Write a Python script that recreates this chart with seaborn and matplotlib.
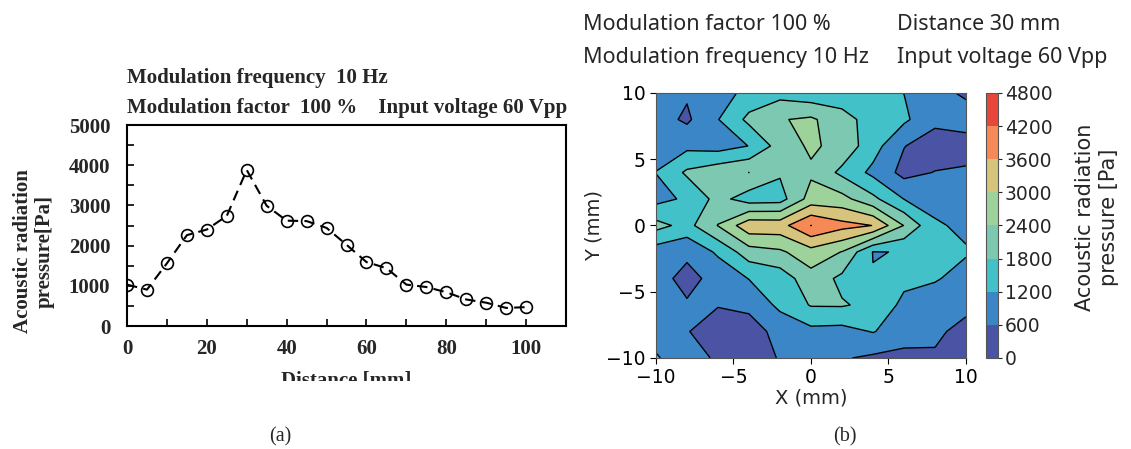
import numpy as np
import matplotlib
matplotlib.use("Agg")
import matplotlib.pyplot as plt
import seaborn as sns
from matplotlib.patches import Rectangle
from matplotlib.ticker import MultipleLocator

# (a) acoustic radiation pressure along the distance
distance_mm = [0, 5, 10, 15, 20, 25, 30, 35, 40, 45, 50,
               55, 60, 65, 70, 75, 80, 85, 90, 95, 100]
pressure_pa = [1030, 905, 1560, 2260, 2400, 2740, 3880, 2990, 2620, 2610, 2440,
               2020, 1590, 1440, 1030, 970, 840, 660, 580, 450, 470]

# (b) pressure map at distance 30 mm (rows from Y = 10 down to Y = -10)
grid_x_mm = [-10, -8, -6, -4, -2, 0, 2, 4, 6, 8, 10]
grid_y_mm = [10, 8, 6, 4, 2, 0, -2, -4, -6, -8, -10]
pressure_map = [
    [900, 670, 900, 1400, 1600, 1400, 1500, 1300, 1195, 800, 500],
    [850, 500, 1180, 1950, 2360, 2500, 2000, 1580, 1310, 750, 900],
    [1000, 1050, 950, 1210, 2060, 2500, 2200, 1450, 620, 300, 300],
    [1210, 1900, 2200, 2402, 1870, 2300, 1660, 1050, 420, 620, 700],
    [1000, 1300, 2000, 1510, 1553, 2650, 2600, 1950, 1190, 1000, 900],
    [2000, 1600, 2420, 3400, 3371, 4205, 3800, 3590, 2380, 1275, 1080],
    [900, 700, 1300, 2130, 2300, 2770, 2380, 1180, 1220, 1400, 1250],
    [780, 450, 766, 1220, 1467, 2163, 1660, 1230, 1350, 1250, 1000],
    [900, 650, 620, 700, 1350, 1840, 1850, 1660, 1050, 900, 800],
    [1000, 620, 400, 400, 750, 1040, 1000, 1230, 900, 750, 350],
    [1250, 900, 500, 450, 620, 800, 650, 500, 420, 500, 300],
]
levels_pa = [0, 600, 1200, 1800, 2400, 3000, 3600, 4200, 4800]
band_colors = ["#4b53a4", "#3b86c6", "#43c1c9", "#7cc8b1",
               "#9dd39b", "#d6c47c", "#f58a57", "#e8463a"]

sns.set_style("ticks")
fig = plt.figure(figsize=(11.31, 4.49), dpi=100)

serif = "Liberation Serif"
sans = "Noto Sans"

# ---------- (a) ----------
ax1 = fig.add_axes([0.1123, 0.2739, 0.3882, 0.4477])
sns.lineplot(x=distance_mm, y=pressure_pa, ax=ax1, color="black",
             linestyle=(0, (5, 3)), linewidth=1.5, marker="o", markersize=8.5,
             markerfacecolor="none", markeredgecolor="black", markeredgewidth=1.2)
ax1.set_xlim(0, 110)
ax1.set_ylim(0, 5000)
ax1.xaxis.set_major_locator(MultipleLocator(20))
ax1.xaxis.set_minor_locator(MultipleLocator(10))
ax1.yaxis.set_major_locator(MultipleLocator(1000))
ax1.yaxis.set_minor_locator(MultipleLocator(500))
ax1.set_xticks([0, 20, 40, 60, 80, 100])
ax1.tick_params(which="both", direction="in", length=5, width=1.2, color="black")
ax1.tick_params(axis="x", pad=9)
ax1.tick_params(axis="y", pad=12)
for s in ax1.spines.values():
    s.set_linewidth(1.5)
    s.set_color("black")
for lab in ax1.get_xticklabels() + ax1.get_yticklabels():
    lab.set_fontfamily(serif)
    lab.set_fontweight("bold")
    lab.set_fontsize(15)
ax1.set_xlabel("")
ax1.set_ylabel("")

fig.text(0.1123, 0.826, "Modulation frequency  10 Hz", family=serif,
         weight="bold", fontsize=15, va="center", ha="left")
fig.text(0.1123, 0.7595, "Modulation factor  100 %    Input voltage 60 Vpp",
         family=serif, weight="bold", fontsize=15, va="center", ha="left")
fig.text(0.030, 0.44, "Acoustic radiation\npressure[Pa]", family=serif,
         weight="bold", fontsize=15, rotation=90, va="center", ha="center",
         multialignment="center", linespacing=1.15)
fig.text(0.306, 0.174, "Distance [mm]", family=serif, weight="bold",
         fontsize=15, va="top", ha="center")
# the original panel (a) is cropped through its axis title
fig.patches.append(Rectangle((0, 0), 0.5, 0.1514, transform=fig.transFigure,
                             facecolor="white", edgecolor="none", zorder=5))
fig.text(0.2476, 0.0267, "(a)", family=serif, fontsize=14.5, va="center",
         ha="center", zorder=6)

# ---------- (b) ----------
ax2 = fig.add_axes([0.58, 0.2027, 0.2741, 0.5902])
cs = ax2.contourf(grid_x_mm, grid_y_mm, pressure_map, levels=levels_pa,
                  colors=band_colors)
ax2.contour(grid_x_mm, grid_y_mm, pressure_map, levels=levels_pa,
            colors="black", linewidths=1.0)
ax2.set_xticks([-10, -5, 0, 5, 10])
ax2.set_yticks([-10, -5, 0, 5, 10])
ax2.tick_params(labelsize=13.5, length=4, width=0.8, colors="black")
for s in ax2.spines.values():
    s.set_linewidth(0.8)
    s.set_color("#555555")
ax2.set_xlabel("X (mm)", fontsize=14, labelpad=1)
ax2.set_ylabel("Y (mm)", fontsize=14, labelpad=2)

cax = fig.add_axes([0.8718, 0.2027, 0.0106, 0.5902])
cb = fig.colorbar(cs, cax=cax, ticks=levels_pa)
cb.outline.set_linewidth(0.8)
cb.outline.set_edgecolor("#555555")
cax.tick_params(labelsize=13.5, length=3, width=0.8, pad=2)
fig.text(0.970, 0.515, "Acoustic radiation\npressure [Pa]", fontsize=15,
         rotation=90, va="center", ha="center", multialignment="center")

fig.text(0.5155, 0.9465, "Modulation factor 100 %", family=sans, fontsize=15.5,
         va="center", ha="left")
fig.text(0.7931, 0.9465, "Distance 30 mm", family=sans, fontsize=15.5,
         va="center", ha="left")
fig.text(0.5155, 0.873, "Modulation frequency 10 Hz", family=sans, fontsize=15.5,
         va="center", ha="left")
fig.text(0.7931, 0.873, "Input voltage 60 Vpp", family=sans, fontsize=15.5,
         va="center", ha="left")
fig.text(0.7471, 0.0267, "(b)", family=serif, fontsize=14.5, va="center",
         ha="center")

fig.savefig("out.png", dpi=100, facecolor="white")
